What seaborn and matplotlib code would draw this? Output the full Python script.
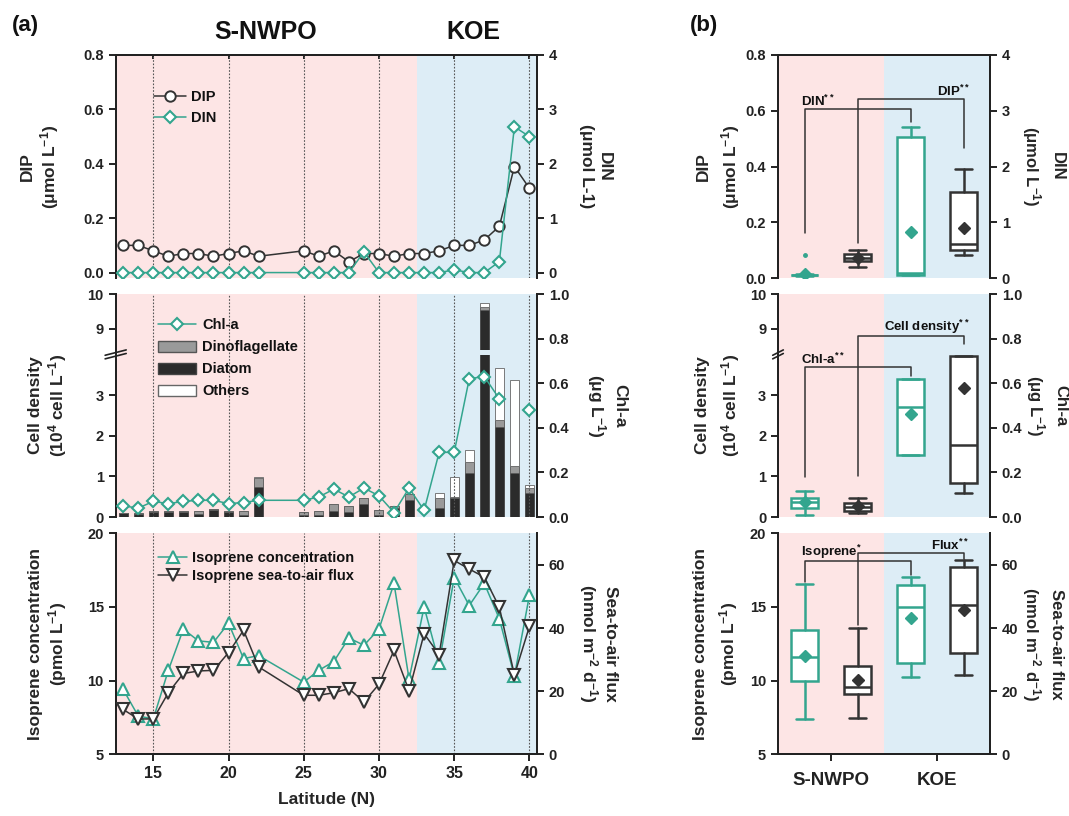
import numpy as np
import seaborn as sns
import matplotlib.pyplot as plt
from matplotlib.lines import Line2D
from matplotlib.patches import Patch
from matplotlib.ticker import FormatStrFormatter

sns.set_theme(style='ticks')
plt.rcParams['font.family'] = ['Liberation Sans', 'DejaVu Sans']
plt.rcParams.update({
    'font.weight': 'bold', 'axes.labelweight': 'bold', 'mathtext.default': 'regular',
    'axes.linewidth': 1.4, 'axes.edgecolor': '#222222',
    'xtick.major.width': 1.4, 'ytick.major.width': 1.4,
    'xtick.major.size': 5, 'ytick.major.size': 5,
    'xtick.labelsize': 10.5, 'ytick.labelsize': 10.5,
    'xtick.color': '#222222', 'ytick.color': '#222222', 'text.color': '#111111',
})

PINK, BLUE = '#fde5e5', '#ddedf6'
TEAL, DARK = '#33a58e', '#333333'

# ---- panel (a) data: stations by latitude ----
lat = [13, 14, 15, 16, 17, 18, 19, 20, 21, 22, 25, 26, 27, 28, 29, 30, 31, 32, 33, 34, 35, 36, 37, 38, 39, 40]
dip = [0.10, 0.10, 0.08, 0.06, 0.07, 0.07, 0.06, 0.07, 0.08, 0.06, 0.08, 0.06, 0.08, 0.04, 0.07,
       0.07, 0.06, 0.07, 0.07, 0.08, 0.10, 0.10, 0.12, 0.17, 0.39, 0.31]
din = [0, 0, 0, 0, 0, 0, 0, 0, 0, 0, 0, 0, 0, 0, 0.38,
       0, 0, 0, 0, 0, 0.05, 0, 0, 0.20, 2.68, 2.50]
diatom = [0.09, 0.08, 0.12, 0.12, 0.12, 0.08, 0.18, 0.12, 0.04, 0.75, 0.06, 0.05, 0.15, 0.12, 0.31,
          0.06, 0.22, 0.42, 0.0, 0.22, 0.48, 1.08, 9.53, 2.22, 1.08, 0.58]
dino = [0.02, 0.02, 0.03, 0.03, 0.03, 0.06, 0.02, 0.03, 0.10, 0.20, 0.06, 0.11, 0.17, 0.16, 0.15,
        0.12, 0.04, 0.14, 0.0, 0.26, 0.02, 0.28, 0.10, 0.16, 0.18, 0.14]
others = [0, 0, 0, 0, 0, 0, 0, 0, 0, 0.04, 0, 0, 0, 0, 0,
          0, 0, 0, 0, 0.10, 0.48, 0.30, 0.12, 1.29, 2.11, 0.06]
chla = [0.05, 0.04, 0.07, 0.06, 0.07, 0.075, 0.075, 0.06, 0.065, 0.075, 0.075, 0.09, 0.125, 0.09, 0.13,
        0.095, 0.02, 0.13, 0.03, 0.29, 0.29, 0.62, 0.63, 0.53, np.nan, 0.48]
isoprene = [9.4, 7.6, 7.4, 10.7, 13.5, 12.7, 12.6, 13.9, 11.5, 11.7, 9.9, 10.7, 11.3, 12.9, 12.4,
            13.5, 16.6, 10.1, 15.0, 11.2, 17.0, 15.1, 16.6, 14.2, 10.3, 15.8]
flux = [14.2, 11.2, 11.2, 19.5, 25.6, 26.4, 26.6, 32.2, 39.3, 27.7, 18.7, 18.7, 19.5, 20.8, 16.6,
        22.2, 32.9, 20.1, 38.2, 31.6, 61.4, 58.7, 56.1, 46.6, 25.1, 40.5]

# ---- panel (b) data: box summaries (whislo, q1, median, q3, whishi, mean) for S-NWPO, KOE ----
regions = ['S-NWPO', 'KOE']
dip_box = [(0.04, 0.06, 0.072, 0.085, 0.10, 0.072), (0.082, 0.10, 0.123, 0.31, 0.39, 0.181)]
din_box = [(0.04, 0.05, 0.05, 0.06, 0.07, 0.07), (0.06, 0.06, 0.09, 2.53, 2.70, 0.82)]
din_fliers = [[0.42], []]
cell_box = [(0.10, 0.16, 0.24, 0.34, 0.46, 0.27), (0.60, 0.84, 1.77, 3.98, 3.98, 3.19)]
chla_box = [(0.008, 0.04, 0.066, 0.085, 0.115, 0.066), (0.277, 0.28, 0.493, 0.618, 0.62, 0.46)]
iso_box = [(7.43, 10.0, 11.58, 13.42, 16.57, 11.69), (10.28, 11.18, 14.99, 16.52, 17.01, 14.27)]
flux_box = [(11.6, 18.95, 21.26, 27.85, 39.9, 23.56), (25.2, 31.94, 47.2, 59.27, 61.57, 45.86)]

# significance brackets (left x, right x, left foot, top, right foot) in left-axis units
br_top = {'DIN': (-0.25, 0.75, 0.163, 0.606, 0.561), 'DIP': (0.25, 1.25, 0.127, 0.642, 0.467)}
br_mid = {'Chl-a': (-0.25, 0.75, 0.98, 3.69, 3.47), 'Cell density': (0.25, 1.25, 1.0, 8.81, 8.57)}
br_bot = {'Isoprene': (-0.25, 0.75, 16.68, 18.09, 17.19), 'Flux': (0.25, 1.25, 13.78, 18.65, 18.27)}

# broken cell-density scale: 0-4 shown, 4-8.4 squeezed into a tiny gap, 8.4-10 shown
LOW, HIGH, GAP, K = 4.0, 8.4, 0.12, 0.86


def fwd(v):
    v = np.asarray(v, dtype=float)
    return np.where(v <= LOW, v, np.where(v >= HIGH, LOW + GAP + (v - HIGH) * K,
                                          LOW + (v - LOW) * GAP / (HIGH - LOW)))


def inv(u):
    u = np.asarray(u, dtype=float)
    return np.where(u <= LOW, u, np.where(u >= LOW + GAP, HIGH + (u - LOW - GAP) / K,
                                          LOW + (u - LOW) * (HIGH - LOW) / GAP))


fig = plt.figure(figsize=(10.69, 8.16), dpi=100)
rows = [(0.6593, 0.2733), (0.3664, 0.2733), (0.0756, 0.2708)]
A_X, A_W = 0.1082, 0.3941
B_X, B_W = 0.7278, 0.1983


def make_pair(x0, w, row, xlim, split, top, bottom):
    ax = fig.add_axes([x0, row[0], w, row[1]])
    axr = ax.twinx()
    ax.set_xlim(xlim)
    ax.axvspan(xlim[0], split, color=PINK, lw=0, zorder=0)
    ax.axvspan(split, xlim[1], color=BLUE, lw=0, zorder=0)
    for a in (ax, axr):
        a.spines['top'].set_visible(top)
        a.spines['bottom'].set_visible(bottom)
    if not bottom:
        ax.tick_params(axis='x', bottom=False, labelbottom=False)
    return ax, axr


def break_marks(ax):
    y = fwd(LOW + 0.3) / fwd(10)
    ax.plot([0, 0], [y - 0.012, y + 0.012], transform=ax.transAxes, color='white', lw=3,
            clip_on=False, zorder=10)
    for dy in (-0.008, 0.008):
        ax.plot([-0.025, 0.025], [y + dy - 0.012, y + dy + 0.012], transform=ax.transAxes,
                color='#222222', lw=1.2, clip_on=False, zorder=11)


def ylab(ax, text, x, right=False, ls=1.2, size=12.5):
    if right:
        ax.set_ylabel(text, fontsize=size, fontweight='bold', linespacing=ls,
                      rotation=270, va='bottom', ha='center')
    else:
        ax.set_ylabel(text, fontsize=size, fontweight='bold', linespacing=ls)
    ax.yaxis.set_label_coords(x, 0.5)


# =================== panel (a) ===================
ax1, ax1r = make_pair(A_X, A_W, rows[0], (12.5, 40.5), 32.5, True, False)
ax2, ax2r = make_pair(A_X, A_W, rows[1], (12.5, 40.5), 32.5, False, False)
ax3, ax3r = make_pair(A_X, A_W, rows[2], (12.5, 40.5), 32.5, False, True)
for ax in (ax1, ax2, ax3):
    for v in range(15, 41, 5):
        ax.axvline(v, color='#555555', ls=(0, (1.5, 1.5)), lw=0.8, zorder=2.6)
ax1.tick_params(axis='x', top=True, direction='in', length=3)

# nutrients
sns.lineplot(x=lat, y=dip, ax=ax1, color=DARK, lw=1.1, marker='o', markersize=7.5,
             markerfacecolor='white', markeredgecolor=DARK, markeredgewidth=1.4,
             sort=False, estimator=None, legend=False, zorder=4)
sns.lineplot(x=lat, y=din, ax=ax1r, color=TEAL, lw=1.1, marker='D', markersize=6.3,
             markerfacecolor='white', markeredgecolor=TEAL, markeredgewidth=1.5,
             sort=False, estimator=None, legend=False, zorder=4)
ax1.set_ylim(-0.02, 0.8)
ax1r.set_ylim(-0.1, 4)
ax1.set_yticks([0, 0.2, 0.4, 0.6, 0.8])
ax1.yaxis.set_major_formatter(FormatStrFormatter('%.1f'))
ax1r.set_yticks([0, 1, 2, 3, 4])
ax1.legend(handles=[
    Line2D([], [], color=DARK, lw=1.1, marker='o', markersize=7.5, mfc='white', mec=DARK, mew=1.4),
    Line2D([], [], color=TEAL, lw=1.1, marker='D', markersize=6.3, mfc='white', mec=TEAL, mew=1.5)],
    labels=['DIP', 'DIN'], loc='upper left', bbox_to_anchor=(0.06, 0.9), frameon=False,
    fontsize=10.5, handlelength=2.2, labelspacing=0.45, handletextpad=0.3)
ylab(ax1, 'DIP\n(μmol L$^{-1}$)', -0.13)
ylab(ax1r, 'DIN\n(μmol L-1)', 1.1, right=True)

# phytoplankton
ax2.set_yscale('function', functions=(fwd, inv))
bot2 = np.add(diatom, dino)
ax2.bar(lat, diatom, width=0.6, color='#2b2b2b', edgecolor='#444444', lw=0.6, zorder=2)
ax2.bar(lat, dino, bottom=diatom, width=0.6, color='#9a9a9a', edgecolor='#555555', lw=0.6, zorder=2)
ax2.bar(lat, others, bottom=bot2, width=0.6, color='white', edgecolor='#666666', lw=0.6, zorder=2)
ax2.axhspan(LOW, HIGH, xmin=0, xmax=20 / 28, color=PINK, lw=0, zorder=2.5)
ax2.axhspan(LOW, HIGH, xmin=20 / 28, xmax=1, color=BLUE, lw=0, zorder=2.5)
ax2.set_ylim(0, 10)
ax2.set_yticks([0, 1, 2, 3, 9, 10])
break_marks(ax2)
ax2r.plot(lat, chla, color=TEAL, lw=1.1, marker='D', markersize=6.3, mfc='white', mec=TEAL,
          mew=1.5, zorder=4)
ax2r.set_ylim(0, 1.0)
ax2r.set_yticks([0, 0.2, 0.4, 0.6, 0.8, 1.0])
ax2r.yaxis.set_major_formatter(FormatStrFormatter('%.1f'))
ax2r.legend(handles=[
    Line2D([], [], color=TEAL, lw=1.1, marker='D', markersize=6.3, mfc='white', mec=TEAL, mew=1.5),
    Patch(facecolor='#9a9a9a', edgecolor='#555555'),
    Patch(facecolor='#2b2b2b', edgecolor='#444444'),
    Patch(facecolor='white', edgecolor='#666666')],
    labels=['Chl-a', 'Dinoflagellate', 'Diatom', 'Others'], loc='upper left',
    bbox_to_anchor=(0.07, 0.95), frameon=False, fontsize=10.5, handlelength=2.6,
    handleheight=0.8, labelspacing=0.55, handletextpad=0.4)
ylab(ax2, 'Cell density\n(10$^{4}$ cell L$^{-1}$)', -0.11)
ylab(ax2r, 'Chl-a\n(μg L$^{-1}$)', 1.115, right=True)

# isoprene
sns.lineplot(x=lat, y=isoprene, ax=ax3, color=TEAL, lw=1.1, marker='^', markersize=9,
             markerfacecolor='white', markeredgecolor=TEAL, markeredgewidth=1.5,
             sort=False, estimator=None, legend=False, zorder=4)
sns.lineplot(x=lat, y=flux, ax=ax3r, color=DARK, lw=1.1, marker='v', markersize=9,
             markerfacecolor='white', markeredgecolor=DARK, markeredgewidth=1.5,
             sort=False, estimator=None, legend=False, zorder=4)
ax3.set_ylim(5, 20)
ax3.set_yticks([5, 10, 15, 20])
ax3r.set_ylim(0, 70)
ax3r.set_yticks([0, 20, 40, 60])
ax3.set_xticks(range(15, 41, 5))
ax3.tick_params(axis='x', labelsize=11.5)
ax3.set_xlabel('Latitude (N)', fontsize=12.5, fontweight='bold', labelpad=8)
ax3.legend(handles=[
    Line2D([], [], color=TEAL, lw=1.1, marker='^', markersize=9, mfc='white', mec=TEAL, mew=1.5),
    Line2D([], [], color=DARK, lw=1.1, marker='v', markersize=9, mfc='white', mec=DARK, mew=1.5)],
    labels=['Isoprene concentration', 'Isoprene sea-to-air flux'], loc='upper left',
    bbox_to_anchor=(0.07, 0.98), frameon=False, fontsize=10.5, handlelength=2.0,
    labelspacing=0.3, handletextpad=0.3)
ylab(ax3, 'Isoprene concentration\n(pmol L$^{-1}$)', -0.11)
ylab(ax3r, 'Sea-to-air flux\n(nmol m$^{-2}$ d$^{-1}$)', 1.095, right=True)


# =================== panel (b) ===================
def boxes(ax, rows_, color, pos, fliers=None):
    stats = []
    for i, r in enumerate(rows_):
        stats.append(dict(whislo=r[0], q1=r[1], med=r[2], q3=r[3], whishi=r[4], mean=r[5],
                          fliers=(fliers[i] if fliers else [])))
    ax.bxp(stats, positions=pos, widths=0.25, capwidths=0.16, patch_artist=True,
           showmeans=True, manage_ticks=False,
           boxprops=dict(facecolor='white', edgecolor=color, linewidth=1.8),
           whiskerprops=dict(color=color, lw=1.8), capprops=dict(color=color, lw=1.8),
           medianprops=dict(color=color, lw=1.8),
           meanprops=dict(marker='D', markerfacecolor=color, markeredgecolor=color, markersize=6.5),
           flierprops=dict(marker='o', markersize=2.5, markerfacecolor=color, markeredgecolor=color))


def brackets(ax, spec, sides):
    for (name, (x0, x1, y0, yt, y1)), side in zip(spec.items(), sides):
        ax.plot([x0, x0, x1, x1], [y0, yt, yt, y1], color=DARK, lw=1.1, zorder=3)
        stars = '**' if name != 'Isoprene' else '*'
        if side == 'left':
            ax.text(x0 - 0.03, yt, name + '$^{' + stars + '}$', ha='left', va='bottom',
                    fontsize=9.5, fontweight='bold', zorder=5)
        else:
            ax.text(x1 + 0.06, yt, name + '$^{' + stars + '}$', ha='right', va='bottom',
                    fontsize=9.5, fontweight='bold', zorder=5)


b1, b1r = make_pair(B_X, B_W, rows[0], (-0.5, 1.5), 0.5, True, False)
b2, b2r = make_pair(B_X, B_W, rows[1], (-0.5, 1.5), 0.5, False, False)
b3, b3r = make_pair(B_X, B_W, rows[2], (-0.5, 1.5), 0.5, False, True)

boxes(b1, dip_box, DARK, [0.25, 1.25])
boxes(b1r, din_box, TEAL, [-0.25, 0.75], din_fliers)
b1.set_ylim(0, 0.8)
b1.set_yticks([0, 0.2, 0.4, 0.6, 0.8])
b1.yaxis.set_major_formatter(FormatStrFormatter('%.1f'))
b1r.set_ylim(0, 4)
b1r.set_yticks([0, 1, 2, 3, 4])
brackets(b1, br_top, ['left', 'right'])
ylab(b1, 'DIP\n(μmol L$^{-1}$)', -0.17, ls=1.5)
ylab(b1r, 'DIN\n(μmol L$^{-1}$)', 1.14, right=True, ls=1.4, size=12)

b2.set_yscale('function', functions=(fwd, inv))
boxes(b2, cell_box, DARK, [0.25, 1.25])
boxes(b2r, chla_box, TEAL, [-0.25, 0.75])
b2.set_ylim(0, 10)
b2.set_yticks([0, 1, 2, 3, 9, 10])
break_marks(b2)
b2r.set_ylim(0, 1.0)
b2r.set_yticks([0, 0.2, 0.4, 0.6, 0.8, 1.0])
b2r.yaxis.set_major_formatter(FormatStrFormatter('%.1f'))
brackets(b2, br_mid, ['left', 'right'])
ylab(b2, 'Cell density\n(10$^{4}$ cell L$^{-1}$)', -0.17, ls=1.5)
ylab(b2r, 'Chl-a\n(μg L$^{-1}$)', 1.16, right=True, ls=1.4, size=12)

boxes(b3, iso_box, TEAL, [-0.25, 0.75])
boxes(b3r, flux_box, DARK, [0.25, 1.25])
b3.set_ylim(5, 20)
b3.set_yticks([5, 10, 15, 20])
b3r.set_ylim(0, 70)
b3r.set_yticks([0, 20, 40, 60])
b3.set_xticks([0, 1])
b3.set_xticklabels(regions, fontsize=13.5, fontweight='bold')
b3.tick_params(axis='x', pad=8)
brackets(b3, br_bot, ['left', 'right'])
ylab(b3, 'Isoprene concentration\n(pmol L$^{-1}$)', -0.18, ls=1.5)
ylab(b3r, 'Sea-to-air flux\n(nmol m$^{-2}$ d$^{-1}$)', 1.14, right=True, ls=1.4, size=12)

# headings
fig.text(0.011, 0.969, '(a)', fontsize=16, fontweight='bold', va='center')
fig.text(0.645, 0.969, '(b)', fontsize=16, fontweight='bold', va='center')
fig.text(0.248, 0.961, 'S-NWPO', fontsize=18, fontweight='bold', ha='center', va='center')
fig.text(0.4425, 0.961, 'KOE', fontsize=18, fontweight='bold', ha='center', va='center')

fig.savefig('out.png', dpi=100)
